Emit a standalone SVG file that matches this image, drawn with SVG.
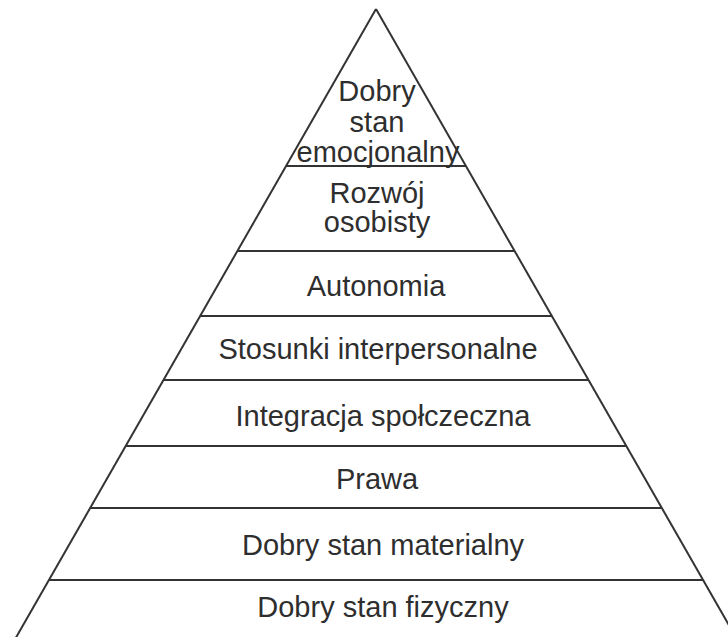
<svg xmlns="http://www.w3.org/2000/svg" width="728" height="637" viewBox="0 0 728 637">
<style>
.ln{stroke:#333;stroke-width:2;fill:none;stroke-linecap:butt}
.t{font-family:"Liberation Sans",Arial,sans-serif;font-size:29px;fill:#2e2e2e;text-anchor:middle}
</style>
<rect width="728" height="637" fill="#fff"/>
<g id="connectors">
<line class="ln" x1="376" y1="9" x2="14" y2="641"/>
<line class="ln" x1="376" y1="9" x2="738" y2="641"/>
<line class="ln" x1="286" y1="166" x2="466" y2="166"/>
<line class="ln" x1="237" y1="251" x2="515" y2="251"/>
<line class="ln" x1="200" y1="316" x2="552" y2="316"/>
<line class="ln" x1="163" y1="380" x2="589" y2="380"/>
<line class="ln" x1="126" y1="446" x2="626" y2="446"/>
<line class="ln" x1="90" y1="508" x2="662" y2="508"/>
<line class="ln" x1="49" y1="580" x2="703" y2="580"/>
</g>
<g id="n1"><text class="t" x="377" y="101">Dobry</text><text class="t" x="377" y="132">stan</text><text class="t" x="378" y="162">emocjonalny</text></g>
<g id="n2"><text class="t" x="377" y="203">Rozwój</text><text class="t" x="377" y="232">osobisty</text></g>
<g id="n3"><text class="t" x="376" y="296">Autonomia</text></g>
<g id="n4"><text class="t" x="378" y="359">Stosunki interpersonalne</text></g>
<g id="n5"><text class="t" x="383" y="426">Integracja społczeczna</text></g>
<g id="n6"><text class="t" x="377" y="489">Prawa</text></g>
<g id="n7"><text class="t" x="383" y="555">Dobry stan materialny</text></g>
<g id="n8"><text class="t" x="383" y="617">Dobry stan fizyczny</text></g>
</svg>
